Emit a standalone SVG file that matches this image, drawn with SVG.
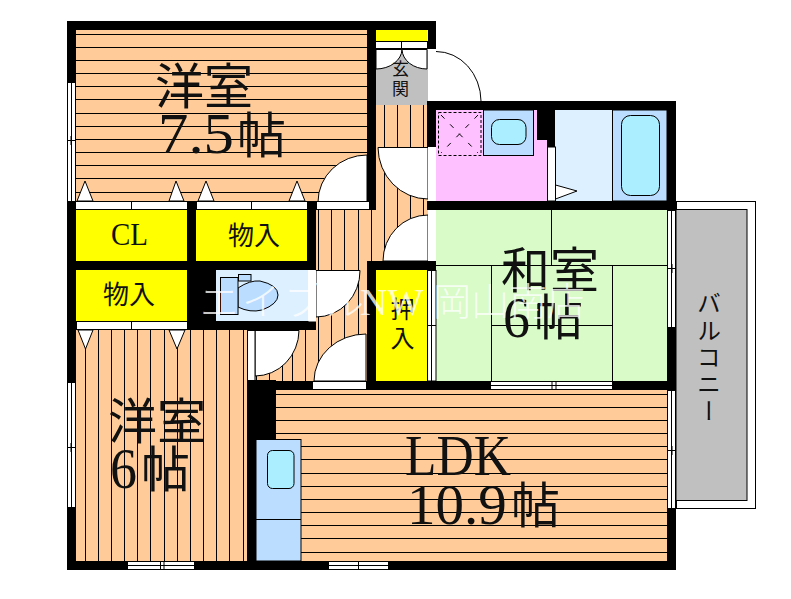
<svg xmlns="http://www.w3.org/2000/svg" width="791" height="599" viewBox="0 0 791 599">
<style>
.wood{fill:#FFCC99}.wall{fill:#000}.line{fill:none;stroke:#000;stroke-width:1}
.yellow{fill:#FFFF00}.white{fill:#fff}.tatami{fill:#D8FBC8}.pale{fill:#DDF0FF}.blue{fill:#BBDDFF;stroke:#000;stroke-width:1}
.basin{fill:#AAEEFF;stroke:#000;stroke-width:1}.door{fill:#fff;stroke:#000;stroke-width:1}
.win{fill:#fff;stroke:#000;stroke-width:1}
text{font-family:"Noto Sans CJK JP","Liberation Serif",serif;fill:#111}
.lat{font-family:"Liberation Serif","Noto Sans CJK JP",serif}
.big{font-size:49px}.mid{font-size:26px}.num{font-size:57px}
.v{writing-mode:vertical-rl}
.wm{font-size:38px;fill:#fff;fill-opacity:.8;font-weight:300}
</style>
<rect class="white" width="791" height="599"/>
<g id="balcony">
<rect x="676.5" y="201.5" width="79" height="307" class="white" stroke="#000"/>
<rect x="676" y="209.5" width="71" height="291" fill="#C0C0C0" stroke="#000"/>
</g>
<g id="floors">
<rect class="wood" x="76" y="30" width="291" height="171"/>
<rect class="wood" x="76" y="330" width="172" height="231"/>
<rect class="wood" x="247" y="321" width="120" height="60"/>
<rect class="wood" x="316" y="210" width="112" height="171"/>
<rect class="wood" x="376" y="105" width="52" height="110"/>
<rect class="wood" x="276" y="390" width="391" height="171"/>
<rect fill="#C0C0C0" x="376" y="49" width="52" height="56"/>
<rect fill="#FFC0FF" x="436" y="110" width="111" height="91"/>
<rect class="pale" x="555" y="110" width="57" height="91"/>
<rect class="pale" x="216" y="270" width="92" height="51"/>
<rect class="tatami" x="436" y="210" width="231" height="171"/>
<rect class="yellow" x="76" y="210" width="111" height="51"/>
<rect class="yellow" x="196" y="210" width="111" height="51"/>
<rect class="yellow" x="76" y="270" width="111" height="51"/>
<rect class="yellow" x="376" y="270" width="51" height="111"/>
<rect class="yellow" x="376" y="30" width="51" height="11"/>
</g>
<g id="hatch">
<path class="line" d="M76 34.500H367M76 47.500H367M76 60.500H367M76 73.500H367M76 86.500H367M76 99.500H367M76 113.500H367M76 126.500H367M76 139.500H367M76 152.500H367M76 165.500H367M76 178.500H367M76 192.500H367"/>
<path class="line" d="M276 394.500H667M276 407.500H667M276 420.500H667M276 433.500H667M301 446.500H667M301 459.500H667M301 473.500H667M301 486.500H667M301 499.500H667M301 512.500H667M301 525.500H667M301 538.500H667M301 552.500H667"/>
<path class="line" d="M85.500 330V561M98.500 330V561M111.500 330V561M124.500 330V561M137.500 330V561M150.500 330V561M164.500 330V561M177.500 330V561M190.500 330V561M203.500 330V561M216.500 330V561M229.500 330V561M243.500 330V561"/>
<path class="line" d="M256.500 330V381M269.500 330V381M282.500 330V381M292.500 330V381M305.500 330V381M318.500 210V381M331.500 210V381M344.500 210V381M358.500 210V381M371.500 210V261M384.500 105V261M397.500 105V261M410.500 105V261M423.500 105V261"/>
<path class="line" d="M436 265.500H667M551.500 210V265M491.500 265V381M612.500 265V381M491 325.500H612"/>
</g>
<g id="doors">
<path class="door" d="M367 155A49 47 0 0 0 318 202H367Z"/>
<path class="door" d="M316 270.500H360A44 46 0 0 1 316 317Z"/>
<path class="door" d="M255 330.500H299A44 46 0 0 1 255 376Z"/>
<path class="door" d="M366 334A52 47 0 0 0 314 381H366Z"/>
<path class="door" d="M428 215A45 46 0 0 0 383 261H428Z"/>
<path class="door" d="M378 147.500H428V199A50 52 0 0 1 378 147.500Z"/>
<path class="door" d="M376 49.500H402A26 20 0 0 1 376 69Z"/>
<path class="door" d="M427 49.500H402A25 20 0 0 0 427 69Z"/>
<path class="line" d="M436 51.500A45 50 0 0 1 481 101"/>
<path class="door" d="M555.500 185L577 191L555.500 199Z"/>
<path class="door" d="M77 201L85 181L93 201Z"/>
<path class="door" d="M169 201L176 181L184 201Z"/>
<path class="door" d="M198 201L206 181L214 201Z"/>
<path class="door" d="M289 201L297 181L305 201Z"/>
<path class="door" d="M78 330L85.500 349L93 330Z"/>
<path class="door" d="M169 330L177 349L185 330Z"/>
</g>
<g id="walls">
<rect class="wall" x="67" y="21" width="309" height="9"/>
<rect class="wall" x="367" y="21" width="69" height="9"/>
<rect class="wall" x="67" y="21" width="9" height="61"/>
<rect class="wall" x="67" y="201" width="9" height="181"/>
<rect class="wall" x="67" y="507" width="9" height="63"/>
<rect class="wall" x="367" y="21" width="9" height="189"/>
<rect class="wall" x="428" y="21" width="8" height="28"/>
<rect class="wall" x="427" y="101" width="249" height="9"/>
<rect class="wall" x="427" y="101" width="9" height="46"/>
<rect class="wall" x="667" y="101" width="9" height="109"/>
<rect class="wall" x="427" y="201" width="249" height="9"/>
<rect class="wall" x="537" y="110" width="18" height="30"/>
<rect class="wall" x="547" y="140" width="8" height="7"/>
<rect class="wall" x="187" y="201" width="9" height="129"/>
<rect class="wall" x="307" y="201" width="9" height="69"/>
<rect class="wall" x="67" y="261" width="249" height="9"/>
<rect class="wall" x="187" y="261" width="29" height="69"/>
<rect class="wall" x="187" y="321" width="129" height="9"/>
<rect class="wall" x="367" y="261" width="69" height="9"/>
<rect class="wall" x="367" y="261" width="9" height="129"/>
<rect class="wall" x="247" y="381" width="65" height="9"/>
<rect class="wall" x="366" y="381" width="124" height="9"/>
<rect class="wall" x="612" y="381" width="64" height="9"/>
<rect class="wall" x="667" y="327" width="9" height="63"/>
<rect class="wall" x="667" y="508" width="9" height="62"/>
<rect class="wall" x="247" y="380" width="29" height="59"/>
<rect class="wall" x="247" y="380" width="9" height="190"/>
<rect class="wall" x="67" y="561" width="609" height="9"/>
</g>
<g id="openings">
<g class="win">
<rect x="67.500" y="82.500" width="8" height="119"/>
<rect x="67.500" y="382.500" width="8" height="125"/>
<rect x="667.500" y="210.500" width="8" height="117"/>
<rect x="667.500" y="390.500" width="8" height="118"/>
<rect x="127.500" y="561.500" width="67" height="8"/>
<rect x="328.500" y="561.500" width="60" height="8"/>
<rect x="490.500" y="381.500" width="122" height="8"/>
</g>
<path class="line" d="M71.500 82V201M71.500 382V507M671.500 210V327M671.500 390V508M127 565.500H194M328 565.500H388M490 385.500H612"/>
<path class="line" d="M67 140.500H76M71 136V145M67 447.500H76M71 443V452M667 268.500H676M672 264V273M667 450.500H676M672 446V455M160.500 561V570M164 561V570M358.500 561V570M552 381V390M556 381V390"/>
<g class="white" stroke="#000">
<rect x="75.500" y="201.500" width="112" height="8"/>
<rect x="196.500" y="201.500" width="111" height="8"/>
<rect x="316.500" y="201.500" width="53" height="8"/>
<rect x="76.500" y="321.500" width="111" height="8"/>
<rect x="375.500" y="41.500" width="52" height="7"/>
<rect x="312.500" y="381.500" width="54" height="8"/>
<rect x="308.500" y="270.500" width="7.500" height="51" stroke="none"/>
<rect x="247.500" y="330.500" width="7.500" height="50"/>
<rect x="428" y="49" width="8" height="52" stroke="none"/>
<rect x="428" y="147" width="8" height="54" stroke="none"/>
<rect x="547.500" y="147" width="8" height="54"/>
<rect x="428" y="210" width="8" height="51" stroke="none"/>
<rect x="427.500" y="270.500" width="8.500" height="110.500"/>
</g>
<path class="line" d="M131.500 201V210M251.500 201V210M131.500 321V330M401.500 41V49M431.500 270V381M427 325.500H436"/>
</g>
<g id="fixtures">
<rect class="blue" x="483.500" y="110" width="50" height="45.500"/>
<rect class="basin" x="491.500" y="119.500" width="34.500" height="25" rx="8"/>
<rect x="438.500" y="112.500" width="42.500" height="43" fill="none" stroke="#000" stroke-dasharray="3 2"/>
<path d="M441 115L478 153M478 115L441 153" fill="none" stroke="#000" stroke-dasharray="5 8"/>
<rect class="blue" x="612.500" y="110" width="54.500" height="91"/>
<rect class="basin" x="621.500" y="115.500" width="38" height="80" rx="9"/>
<rect class="blue" x="256" y="439.500" width="45" height="121.500"/>
<path class="line" d="M256 519.500H301"/>
<rect class="basin" x="267.500" y="450.500" width="26.500" height="38" rx="5"/>
<path class="blue" d="M238 288Q250 280 260 281Q278 285 278 295Q278 304 262 310Q250 313 238 307Z"/>
<rect class="blue" x="220.500" y="277.500" width="17.500" height="37"/>
<rect class="blue" x="238.500" y="274.500" width="12.500" height="6.500"/>
</g>
<g id="labels">
<text class="big" x="155" y="104">洋室</text>
<text class="lat num" x="158" y="153" textLength="76" lengthAdjust="spacingAndGlyphs">7.5</text>
<text class="big" x="237" y="153">帖</text>
<text class="lat" x="111" y="245" font-size="31" textLength="37" lengthAdjust="spacingAndGlyphs">CL</text>
<text class="mid" x="228" y="245">物入</text>
<text class="mid" x="103" y="304">物入</text>
<text class="big" x="108" y="439">洋室</text>
<text class="lat num" x="110" y="488" textLength="27" lengthAdjust="spacingAndGlyphs">6</text>
<text class="big" x="141" y="487">帖</text>
<text class="lat num" x="405" y="475" textLength="106" lengthAdjust="spacingAndGlyphs">LDK</text>
<text class="lat num" x="407" y="524">10.9</text>
<text class="big" x="511" y="523">帖</text>
<text class="big" x="501" y="288">和室</text>
<text class="lat num" x="503" y="337" textLength="27" lengthAdjust="spacingAndGlyphs">6</text>
<text class="big" x="534" y="335">帖</text>
<text class="v" x="402.500" y="297" font-size="24" letter-spacing="5">押入</text>
<text class="v" x="400.500" y="60" font-size="17" letter-spacing="3">玄関</text>
<text class="v" x="709" y="291" font-size="24" letter-spacing="3">バルコニー</text>
</g>
<g id="watermark">
<text class="wm" x="200" y="315" letter-spacing="4">エイブル</text>
<text class="wm lat" x="360" y="315">NW</text>
<text class="wm" x="433" y="315">岡山南店</text>
</g>
</svg>
